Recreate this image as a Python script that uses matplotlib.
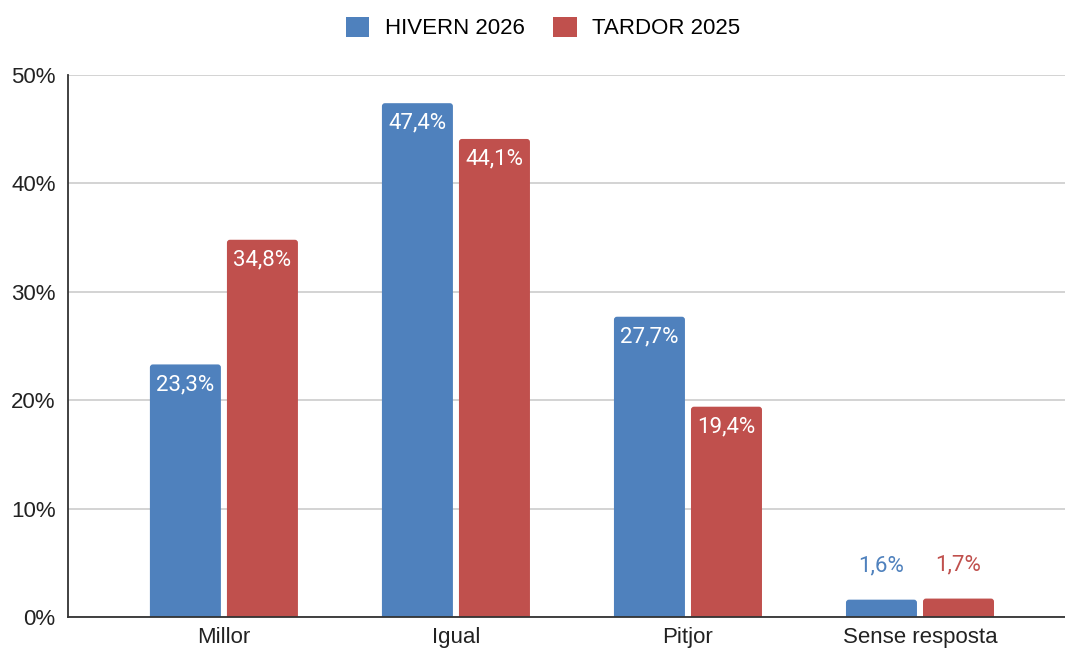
import matplotlib
matplotlib.use("Agg")
import matplotlib.pyplot as plt
from matplotlib.patches import FancyBboxPatch, Patch
import numpy as np

categories = ["Millor", "Igual", "Pitjor", "Sense resposta"]
series_names = ["HIVERN 2026", "TARDOR 2025"]
hivern_2026 = [23.3, 47.4, 27.7, 1.6]
tardor_2025 = [34.8, 44.1, 19.4, 1.7]
labels_hivern = ["23,3%", "47,4%", "27,7%", "1,6%"]
labels_tardor = ["34,8%", "44,1%", "19,4%", "1,7%"]
yticks = [0, 10, 20, 30, 40, 50]
ytick_labels = ["0%", "10%", "20%", "30%", "40%", "50%"]

colors = ["#4F81BD", "#C0504D"]

W, H = 1065, 648
fig = plt.figure(figsize=(W / 100, H / 100), dpi=100)
ax = fig.add_axes([68 / W, (H - 617) / H, (W - 68) / W, (617 - 75) / H])

x = np.arange(len(categories))
bw = 0.306
off = 0.166
ax.set_xlim(-0.672, 3.625)
ax.set_ylim(0, 50)

px_x = (W - 68) / (3.625 + 0.672)
px_y = (617 - 75) / 50.0
r_px = 3.0

for si, (vals, labs) in enumerate([(hivern_2026, labels_hivern), (tardor_2025, labels_tardor)]):
    xs = x + (-off if si == 0 else off)
    bars = ax.bar(xs, vals, width=bw, color=colors[si], zorder=3)
    for b, v, lab in zip(bars, vals, labs):
        b.set_visible(False)
        bx, by = b.get_x(), b.get_y()
        bwid, bh = b.get_width(), b.get_height()
        fb = FancyBboxPatch((bx, by - 2), bwid, bh + 2,
                            boxstyle=f"round,pad=0,rounding_size={r_px / px_x}",
                            mutation_aspect=px_x / px_y,
                            facecolor=colors[si], edgecolor="none", zorder=3,
                            clip_on=True)
        ax.add_patch(fb)
        cx = bx + bwid / 2
        if v >= 5:
            ax.annotate(lab, (cx, v), xytext=(0, -14.5), textcoords="offset points",
                        ha="center", va="center", color="white", fontsize=16,
                        family="Roboto", zorder=5)
        else:
            ax.annotate(lab, (cx, v), xytext=(0, 24), textcoords="offset points",
                        ha="center", va="center", color=colors[si], fontsize=16,
                        family="Roboto", zorder=5)

ax.set_yticks(yticks)
ax.set_yticklabels(ytick_labels, fontsize=16, family="Liberation Sans", color="#222222")
ax.set_xticks(x)
ax.set_xticklabels(categories, fontsize=16, family="Liberation Sans", color="#222222")
ax.tick_params(axis="both", length=0)
ax.tick_params(axis="y", pad=9)
ax.tick_params(axis="x", pad=7.5)
ax.grid(axis="y", color="#cccccc", linewidth=1.2, zorder=0)
ax.set_axisbelow(True)
for s in ["top", "right"]:
    ax.spines[s].set_visible(False)
for s in ["left", "bottom"]:
    ax.spines[s].set_color("#333333")
    ax.spines[s].set_linewidth(1.3)
    ax.spines[s].set_zorder(4)

handles = [Patch(facecolor=c, edgecolor="none") for c in colors]
fig.legend(handles, series_names, loc="center", bbox_to_anchor=(543 / W, 1 - 28 / H),
           ncol=2, frameon=False, prop={"family": "Liberation Sans", "size": 16},
           handlelength=1.05, handleheight=1.05, handletextpad=0.68, columnspacing=1.3)

fig.savefig("out.png", dpi=100)
